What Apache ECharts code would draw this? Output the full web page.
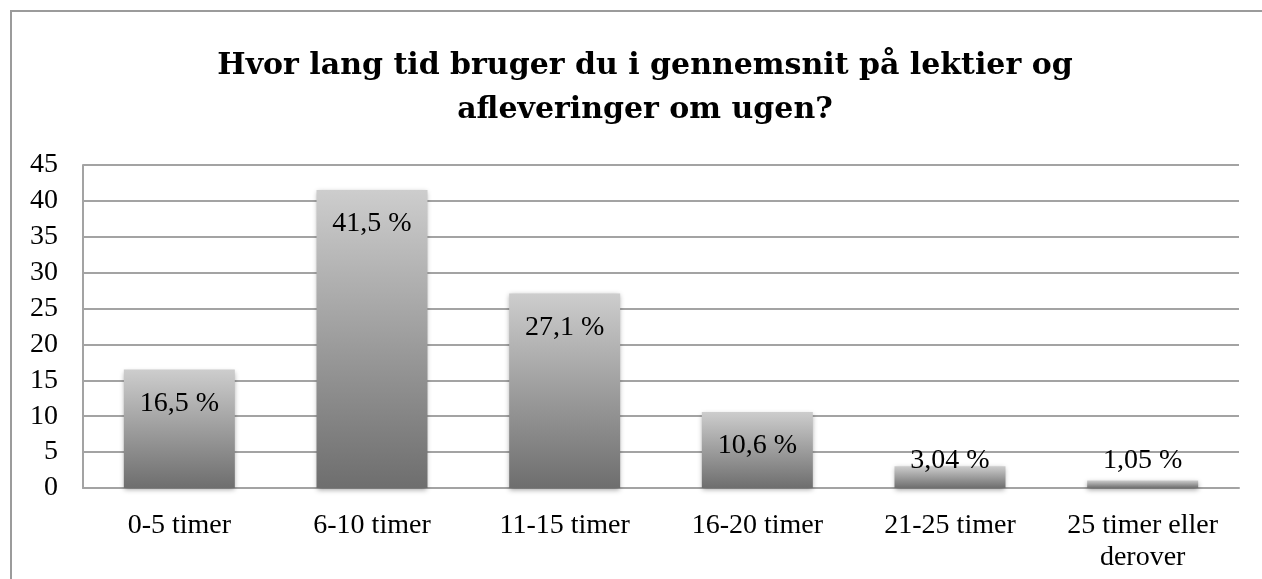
<!DOCTYPE html>
<html>
<head>
<meta charset="utf-8">
<script src="https://cdn.jsdelivr.net/npm/echarts@6/dist/echarts.min.js"></script>
<style>
html,body{margin:0;padding:0;background:#fff;}
#chart{width:1262px;height:579px;}
</style>
</head>
<body>
<div id="chart"></div>
<script>
const titleText = 'Hvor lang tid bruger du i gennemsnit på lektier og\nafleveringer om ugen?';
const categories = ['0-5 timer', '6-10 timer', '11-15 timer', '16-20 timer', '21-25 timer', '25 timer eller\nderover'];
const values = [16.5, 41.5, 27.1, 10.6, 3.04, 1.05];
const valueLabels = ['16,5 %', '41,5 %', '27,1 %', '10,6 %', '3,04 %', '1,05 %'];

const FONT = '"Liberation Serif", "DejaVu Serif", serif';
const TITLE_FONT = '"DejaVu Serif", "Liberation Serif", serif';
const GRID = '#a3a3a3';

const chart = echarts.init(document.getElementById('chart'), null, {renderer: 'canvas'});

const barData = values.map((v, i) => {
  const small = v < 5;
  return {
    value: v,
    label: {
      position: small ? 'insideBottom' : 'insideTop',
      distance: small ? 13 : 20,
      formatter: valueLabels[i]
    }
  };
});

chart.setOption({
  animation: false,
  backgroundColor: '#fff',
  title: {
    text: titleText,
    left: 640,
    top: 39,
    textAlign: 'center',
    textStyle: {
      fontFamily: TITLE_FONT,
      fontWeight: 'bold',
      fontSize: 30,
      lineHeight: 44,
      color: '#000'
    }
  },
  graphic: [{
    type: 'rect',
    shape: {x: 11, y: 11, width: 1400, height: 800},
    style: {fill: 'none', stroke: '#9b9b9b', lineWidth: 2},
    silent: true,
    z: 100
  }],
  grid: {left: 83, top: 165, right: 23, bottom: 91, containLabel: false},
  xAxis: {
    type: 'category',
    data: categories,
    axisLine: {show: true, lineStyle: {color: GRID, width: 2}},
    axisTick: {show: false},
    axisLabel: {
      margin: 22,
      interval: 0,
      fontFamily: FONT,
      fontSize: 28,
      lineHeight: 32,
      color: '#000'
    }
  },
  yAxis: {
    type: 'value',
    min: 0,
    max: 45,
    interval: 5,
    axisLine: {show: true, lineStyle: {color: GRID, width: 2}},
    axisTick: {show: false},
    splitLine: {lineStyle: {color: GRID, width: 2}},
    axisLabel: {
      margin: 25,
      fontFamily: FONT,
      fontSize: 28,
      color: '#000'
    }
  },
  series: [{
    type: 'bar',
    data: barData,
    barWidth: '57.6%',
    itemStyle: {
      color: new echarts.graphic.LinearGradient(0, 0, 0, 1, [
        {offset: 0, color: '#cdcdcd'},
        {offset: 1, color: '#6e6e6e'}
      ]),
      shadowColor: 'rgba(0,0,0,0.35)',
      shadowBlur: 5,
      shadowOffsetY: 2
    },
    label: {
      show: true,
      fontFamily: FONT,
      fontSize: 28,
      lineHeight: 28,
      color: '#000'
    }
  }]
});
</script>
</body>
</html>
